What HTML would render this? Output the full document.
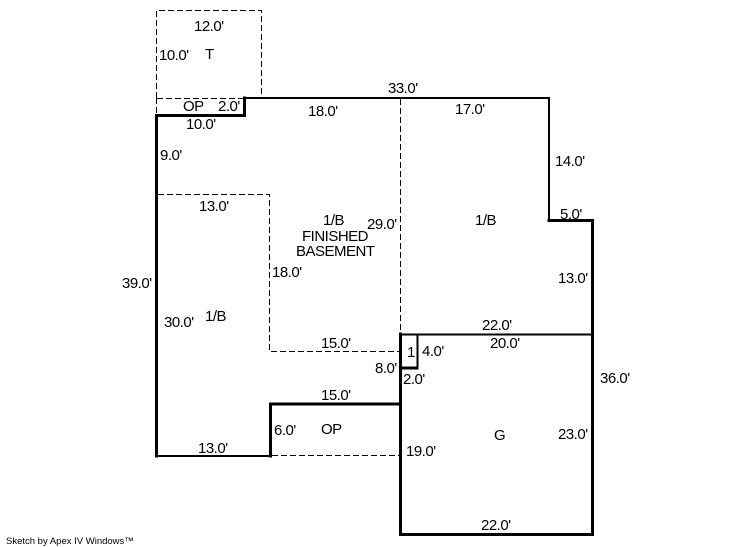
<!DOCTYPE html>
<html><head><meta charset="utf-8"><style>
html,body{margin:0;padding:0;background:#fff}
svg{display:block}
text{font-family:"Liberation Sans",Arial,sans-serif;font-size:15px;letter-spacing:-.5px;fill:#000}
.d{fill:none;stroke:#000;stroke-width:1;stroke-dasharray:6 3}
.t{fill:none;stroke:#000;stroke-width:3;stroke-linecap:square}
.n{fill:none;stroke:#000;stroke-width:2;stroke-linecap:square}
</style></head><body>
<svg width="746" height="547" viewBox="0 0 746 547" xmlns="http://www.w3.org/2000/svg">
<path class="d" d="M156.500 98V10.500H261.500V98"/>
<path class="d" d="M157 98.500H244"/>
<path class="d" d="M156.500 98V114"/>
<path class="d" d="M158 194.500H269.500V351.500H400"/>
<path class="d" d="M400.500 99V333"/>
<path class="d" d="M272 455.500H400"/>
<path class="t" d="M156.500 456V115.500H244.500"/>
<path class="t" d="M244.500 115.500V98"/>
<path class="n" d="M245 98H549V220"/>
<path class="t" d="M549 220.500H592.500V534.500H400.500V404"/>
<path class="t" d="M400.500 404H270.500V456"/>
<path class="n" d="M270 456H156"/>
<path class="n" d="M402 334.500H592"/>
<path class="t" d="M400.500 334V404"/>
<path class="t" d="M401 368H417"/>
<path class="n" d="M417.500 368V335"/>
<text x="194" y="31">12.0'</text>
<text x="159" y="60">10.0'</text>
<text x="205" y="59">T</text>
<text x="388" y="93">33.0'</text>
<text x="183" y="111">OP</text>
<text x="218" y="111">2.0'</text>
<text x="308" y="116">18.0'</text>
<text x="186" y="129">10.0'</text>
<text x="160" y="160">9.0'</text>
<text x="199" y="211">13.0'</text>
<text x="455" y="114">17.0'</text>
<text x="555" y="166">14.0'</text>
<text x="560" y="219">5.0'</text>
<text x="475" y="225">1/B</text>
<text x="323" y="225">1/B</text>
<text x="302" y="241">FINISHED</text>
<text x="296" y="256">BASEMENT</text>
<text x="367" y="229">29.0'</text>
<text x="272" y="277">18.0'</text>
<text x="122" y="288">39.0'</text>
<text x="164" y="327">30.0'</text>
<text x="205" y="321">1/B</text>
<text x="558" y="283">13.0'</text>
<text x="321" y="348">15.0'</text>
<text x="482" y="330">22.0'</text>
<text x="490" y="348">20.0'</text>
<text x="407" y="357">1</text>
<text x="422" y="356">4.0'</text>
<text x="375" y="373">8.0'</text>
<text x="403" y="384">2.0'</text>
<text x="600" y="383">36.0'</text>
<text x="321" y="400">15.0'</text>
<text x="274" y="435">6.0'</text>
<text x="321" y="434">OP</text>
<text x="494" y="440">G</text>
<text x="558" y="439">23.0'</text>
<text x="406" y="456">19.0'</text>
<text x="198" y="453">13.0'</text>
<text x="481" y="530">22.0'</text>
<text x="6" y="544" style="font-size:9.500px;letter-spacing:0">Sketch by Apex IV Windows™</text>
</svg>
</body></html>
